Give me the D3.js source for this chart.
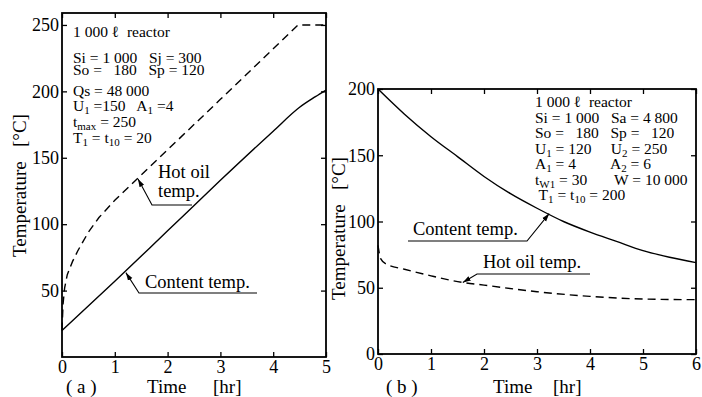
<!DOCTYPE html>
<html><head><meta charset="utf-8">
<script src="https://cdn.jsdelivr.net/npm/d3@7"></script>
<style>
body{margin:0;background:#fff}
svg text{font-family:"Liberation Serif","DejaVu Serif",serif !important;fill:#000}
</style>
</head><body>
<svg id="c" width="702" height="397" font-family="Liberation Serif, DejaVu Serif, serif"></svg>
<script>
// ---------- Panel (a) data ----------
const aContentTime = [0, 1, 2, 3, 4, 4.5, 4.8, 5];
const aContentTemp = [20, 57, 95, 133, 170, 188, 196, 201];
const aOilTime = [0, 0.02, 0.05, 0.1, 0.2, 0.3, 0.4, 0.5, 0.7, 1, 2, 3, 4, 4.47, 5];
const aOilTemp = [20, 40, 52, 62, 72, 80, 87, 94, 105, 118, 156, 194, 232, 250, 250];
const aXTicks = [0, 1, 2, 3, 4, 5];
const aYTicks = [50, 100, 150, 200, 250];
const aInfo = [
  "1 000 ℓ  reactor",
  "Si = 1 000   Sj = 300",
  "So =   180   Sp = 120",
  "Qs = 48 000",
  "U_1_ =150   A_1_ =4",
  "t_max_ = 250",
  "T_1_ = t_10_ = 20"
];
const aLabel = "( a )";

// ---------- Panel (b) data ----------
const bContentTime = [0, 0.5, 1, 1.5, 2, 2.5, 3, 3.5, 4, 4.5, 5, 5.5, 6];
const bContentTemp = [200, 181, 164, 149, 134, 121, 110, 100, 92, 85, 78, 73, 69];
const bOilTime = [0, 0.05, 0.15, 0.5, 1, 1.6, 2, 3, 4, 5, 6];
const bOilTemp = [82, 72, 68, 64, 59, 54, 52, 47, 43.5, 41.5, 41];
const bXTicks = [0, 1, 2, 3, 4, 5, 6];
const bYTicks = [0, 50, 100, 150, 200];
const bInfo = [
  "1 000 ℓ  reactor",
  "Si = 1 000   Sa = 4 800",
  "So =   180   Sp =   120",
  "U_1_ = 120     U_2_ = 250",
  "A_1_ = 4         A_2_ = 6",
  "t_W1_ = 30       W = 10 000",
  " T_1_ = t_10_ = 200"
];
const bLabel = "( b )";

const yTitle = "Temperature   [°C]";
const xTitle = "Time";
const xUnit = "[hr]";
const contentName = "Content temp.";
const oilName1 = "Hot oil";
const oilName2 = "temp.";
const oilName = "Hot oil temp.";

// ---------- drawing ----------
const FONT = "Liberation Serif, DejaVu Serif, serif";
const svg = d3.select("#c");
svg.append("rect").attr("width", 702).attr("height", 397).attr("fill", "#fff");
const defs = svg.append("defs");
defs.append("marker").attr("id", "arr").attr("viewBox", "0 0 10 10")
  .attr("refX", 10).attr("refY", 5).attr("markerWidth", 8).attr("markerHeight", 8)
  .attr("markerUnits", "userSpaceOnUse").attr("orient", "auto")
  .append("path").attr("d", "M0,1.8 L10,5 L0,8.2 z").attr("fill", "#000");

function txt(g, x, y, size, s) {
  return g.append("text").attr("x", x).attr("y", y).attr("font-size", size)
    .attr("font-family", FONT).style("white-space", "pre").text(s);
}

function drawPanel(o) {
  const x = o.x, y = o.y;
  const g = svg.append("g");
  const smooth = d3.line().x(d => x(d[0])).y(d => y(d[1])).curve(d3.curveMonotoneX);
  const straight = d3.line().x(d => x(d[0])).y(d => y(d[1]));

  g.append("path").datum(d3.zip(o.cT, o.cV)).attr("d", smooth)
    .attr("fill", "none").attr("stroke", "#000").attr("stroke-width", 1.4);
  g.append("path").datum(d3.zip(o.oT, o.oV)).attr("d", o.oilSmooth ? smooth : straight)
    .attr("fill", "none").attr("stroke", "#000").attr("stroke-width", 1.4)
    .attr("stroke-dasharray", "8,5");

  const [x0, x1] = x.range(), [y0, y1] = y.range();
  g.append("rect").attr("x", x0).attr("y", y1).attr("width", x1 - x0).attr("height", y0 - y1)
    .attr("fill", "none").attr("stroke", "#000").attr("stroke-width", 1.8);

  const style = sel => {
    sel.select(".domain").remove();
    sel.attr("font-family", FONT).attr("font-size", 18);
    sel.selectAll("line").attr("stroke-width", 1.3);
  };
  g.append("g").attr("transform", `translate(0,${y0})`)
    .call(d3.axisBottom(x).tickValues(o.xTicks).tickSize(-5).tickPadding(3).tickFormat(d3.format("d")))
    .call(style);
  g.append("g").attr("transform", `translate(0,${y1})`)
    .call(d3.axisTop(x).tickValues(o.xTicks).tickSize(-5).tickFormat(""))
    .call(style);
  g.append("g").attr("transform", `translate(${x0},0)`)
    .call(d3.axisLeft(y).tickValues(o.yTicks).tickSize(-5).tickPadding(3).tickFormat(d3.format("d")))
    .call(style);
  g.append("g").attr("transform", `translate(${x1},0)`)
    .call(d3.axisRight(y).tickValues(o.yTicks).tickSize(-5).tickFormat(""))
    .call(style);

  o.info.forEach((ln, i) => {
    const t = g.append("text").attr("x", o.infoX).attr("y", o.infoY[i])
      .attr("font-size", 15.5).attr("font-family", FONT).style("white-space", "pre");
    ln.split("_").forEach((seg, j) => {
      if (!seg) return;
      const sp = t.append("tspan").text(seg);
      if (j % 2 === 1) sp.attr("font-size", 11).attr("dy", 3);
      else if (j > 0) sp.attr("dy", -3);
    });
  });

  g.append("text").attr("transform", `translate(${o.yt[0]},${o.yt[1]}) rotate(-90)`)
    .attr("font-size", 19).attr("font-family", FONT).style("white-space", "pre").text(yTitle);
  txt(g, o.lab, 393, 19, o.label);
  txt(g, o.tim[0], 393, 19, xTitle);
  txt(g, o.tim[1], 393, 19, xUnit);
  return g;
}

function leader(g, pts) {
  g.append("path").attr("d", d3.line()(pts)).attr("fill", "none")
    .attr("stroke", "#000").attr("stroke-width", 1.1).attr("marker-end", "url(#arr)");
}

// Panel (a)
const xA = d3.scaleLinear().domain([0, 5]).range([62, 326]);
const yA = d3.scaleLinear().domain([0, 259]).range([357, 13]);
const gA = drawPanel({
  x: xA, y: yA, cT: aContentTime, cV: aContentTemp, oT: aOilTime, oV: aOilTemp, oilSmooth: false,
  xTicks: aXTicks, yTicks: aYTicks, info: aInfo, infoX: 73,
  infoY: [37, 63, 75, 96, 111, 127, 143], yt: [26, 257], label: aLabel, lab: 66, tim: [147, 213]
});
txt(gA, 158, 178, 18.5, oilName1);
txt(gA, 158, 197, 18.5, oilName2);
leader(gA, [[192, 205], [152, 205], [xA(1.44), yA(134)]]);
txt(gA, 145, 288, 18.5, contentName);
leader(gA, [[257, 293], [139, 293], [xA(1.21), yA(63.5)]]);

// Panel (b)
const xB = d3.scaleLinear().domain([0, 6]).range([378, 696]);
const yB = d3.scaleLinear().domain([0, 200]).range([354, 89]);
const gB = drawPanel({
  x: xB, y: yB, cT: bContentTime, cV: bContentTemp, oT: bOilTime, oV: bOilTemp, oilSmooth: true,
  xTicks: bXTicks, yTicks: bYTicks, info: bInfo, infoX: 535,
  infoY: [107, 123, 138, 154, 169, 185, 200], yt: [345, 300], label: bLabel, lab: 386, tim: [493, 553]
});
txt(gB, 413, 235, 18.5, contentName);
leader(gB, [[408, 241], [527, 241], [xB(3.23), yB(106)]]);
txt(gB, 483, 268, 18.5, oilName);
leader(gB, [[590, 274], [477, 274], [xB(1.6), yB(54)]]);
</script>
</body></html>
